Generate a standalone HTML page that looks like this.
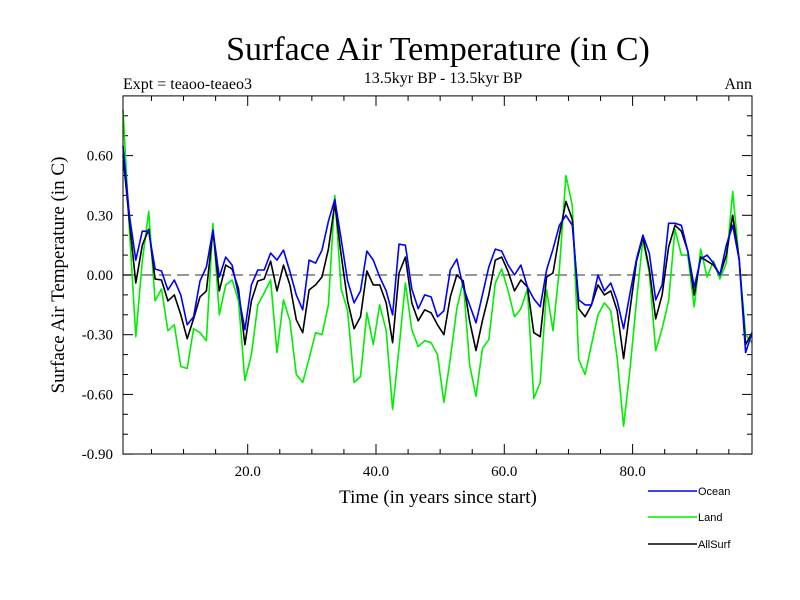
<!DOCTYPE html>
<html><head><meta charset="utf-8"><style>
body{margin:0;background:#fff}
svg{display:block}
text{font-family:"Liberation Serif",serif;fill:#000}
.leg{font-family:"Liberation Sans",sans-serif;font-size:11px}
</style></head><body>
<svg id="chart" width="800" height="600">
<text x="438" y="60" font-size="34" text-anchor="middle">Surface Air Temperature (in C)</text>
<text x="443" y="83" font-size="16" text-anchor="middle">13.5kyr BP - 13.5kyr BP</text>
<text x="123" y="89" font-size="16">Expt = teaoo-teaeo3</text>
<text x="752" y="89" font-size="16" text-anchor="end">Ann</text>
<text transform="translate(64,275) rotate(-90)" font-size="19" text-anchor="middle">Surface Air Temperature (in C)</text>
<text x="438" y="503" font-size="19" text-anchor="middle">Time (in years since start)</text>
<g id="marks"></g>
<rect x="123" y="95.9" width="629" height="358.1" fill="none" stroke="#000" stroke-width="1"/>
<g>
<line x1="648" y1="491" x2="697" y2="491" stroke="#0000ff" stroke-width="1.5"/>
<text class="leg" x="698" y="495">Ocean</text>
<line x1="648" y1="517" x2="697" y2="517" stroke="#00ee00" stroke-width="1.5"/>
<text class="leg" x="698" y="521">Land</text>
<line x1="648" y1="544" x2="697" y2="544" stroke="#000" stroke-width="1.5"/>
<text class="leg" x="698" y="548">AllSurf</text>
</g>
</svg>
<script>
const ocean=[0.65,0.30,0.075,0.22,0.22,0.03,0.02,-0.075,-0.025,-0.10,-0.25,-0.21,-0.03,0.04,0.225,-0.01,0.09,0.05,-0.10,-0.275,-0.05,0.025,0.025,0.11,0.075,0.125,0.017,-0.10,-0.175,0.075,0.06,0.125,0.27,0.38,0.18,-0.03,-0.14,-0.08,0.12,0.075,-0.01,-0.08,-0.20,0.155,0.15,-0.07,-0.17,-0.10,-0.11,-0.21,-0.18,0.025,0.08,-0.06,-0.15,-0.24,-0.10,0.04,0.13,0.12,0.05,0.0,0.05,-0.06,-0.12,-0.16,0.025,0.13,0.25,0.30,0.25,-0.125,-0.15,-0.15,0.0,-0.08,-0.04,-0.13,-0.27,-0.09,0.08,0.20,0.11,-0.125,-0.05,0.26,0.26,0.25,0.12,-0.06,0.08,0.10,0.06,0.0,0.15,0.25,0.075,-0.39,-0.29];
const land=[0.83,0.23,-0.31,0.07,0.32,-0.13,-0.07,-0.28,-0.25,-0.46,-0.47,-0.27,-0.29,-0.33,0.26,-0.20,-0.05,-0.025,-0.13,-0.53,-0.40,-0.15,-0.09,-0.025,-0.39,-0.125,-0.23,-0.50,-0.54,-0.42,-0.29,-0.30,-0.15,0.40,-0.07,-0.18,-0.54,-0.51,-0.19,-0.35,-0.15,-0.28,-0.675,-0.37,-0.04,-0.275,-0.36,-0.33,-0.34,-0.40,-0.64,-0.42,-0.17,-0.03,-0.45,-0.61,-0.37,-0.325,-0.04,0.03,-0.08,-0.21,-0.17,-0.07,-0.62,-0.54,-0.075,-0.28,0.03,0.50,0.35,-0.425,-0.50,-0.35,-0.20,-0.14,-0.18,-0.42,-0.76,-0.47,-0.13,0.18,0.01,-0.38,-0.27,-0.13,0.23,0.10,0.10,-0.16,0.13,-0.01,0.07,-0.02,0.06,0.42,0.07,-0.30,-0.34];
const allsurf=[0.60,0.27,-0.04,0.15,0.23,-0.02,-0.025,-0.13,-0.10,-0.20,-0.32,-0.22,-0.11,-0.08,0.225,-0.08,0.05,0.03,-0.07,-0.35,-0.13,-0.03,-0.02,0.07,-0.08,0.05,-0.05,-0.225,-0.29,-0.075,-0.05,-0.01,0.13,0.36,0.10,-0.13,-0.27,-0.21,0.02,-0.05,-0.05,-0.14,-0.34,0.01,0.09,-0.14,-0.23,-0.175,-0.19,-0.25,-0.30,-0.11,0.0,-0.03,-0.23,-0.38,-0.23,-0.10,0.075,0.09,0.017,-0.08,-0.025,-0.06,-0.29,-0.31,-0.01,0.01,0.20,0.37,0.28,-0.17,-0.21,-0.15,-0.05,-0.10,-0.08,-0.18,-0.42,-0.17,0.07,0.19,0.03,-0.22,-0.10,0.14,0.25,0.22,0.12,-0.10,0.09,0.07,0.05,0.0,0.10,0.30,0.08,-0.35,-0.29];
const years=ocean.map((_,i)=>i+1);
const xTicks=[20,40,60,80];
const xTickLabels=["20.0","40.0","60.0","80.0"];
const yTicks=[0.6,0.3,0,-0.3,-0.6,-0.9];
const yTickLabels=["0.60","0.30","0.00","-0.30","-0.60","-0.90"];

const L=123,R=752,T=95.9,B=454;
const X0=1,X1=99;
function xScale(v){return L+(v-X0)*(R-L)/(X1-X0);}
function tickX(v){return 247.7+(v-20)*6.415;}
function yScale(v){return 275-v*199;}
const NS="http://www.w3.org/2000/svg";
const g=document.getElementById('marks');
function mk(tag,attrs){const e=document.createElementNS(NS,tag);for(const k in attrs)e.setAttribute(k,attrs[k]);g.appendChild(e);return e;}

const z=mk('line',{x1:L,x2:R,y1:yScale(0),y2:yScale(0),stroke:'#777','stroke-width':1.5,'stroke-dasharray':'12,6'});



for(let v=5;v<=95;v+=5){
  const x=tickX(v);const len=(v%20===0)?10:5;
  const a=mk('line',{x1:x,x2:x,y1:B,y2:B-len,stroke:'#000'});
  
  
  const b=mk('line',{x1:x,x2:x,y1:T,y2:T+len,stroke:'#000'});
  
  
}
xTicks.forEach((v,i)=>{
  const t=mk('text',{x:tickX(v),y:476,'font-size':15,'text-anchor':'middle'});
  t.textContent=xTickLabels[i];
  
  
});
for(let k=-9;k<=8;k++){
  const v=k/10;const y=yScale(v);const len=(k%3===0)?10:5;
  const a=mk('line',{x1:L,x2:L+len,y1:y,y2:y,stroke:'#000'});
  
  
  const b=mk('line',{x1:R,x2:R-len,y1:y,y2:y,stroke:'#000'});
  
  
}
yTicks.forEach((v,i)=>{
  const t=mk('text',{x:113,y:yScale(v)+5,'font-size':15,'text-anchor':'end'});
  t.textContent=yTickLabels[i];
  
  
});
function series(arr,color,name){
  const d=arr.map((v,i)=>(i?'L':'M')+xScale(years[i]).toFixed(1)+','+yScale(v).toFixed(1)).join('');
  const p=mk('path',{d:d,fill:'none',stroke:color,'stroke-width':1.6,'stroke-linejoin':'round'});
  
  
}
series(land,'#00ee00','land-line');
series(allsurf,'#000000','allsurf-line');
series(ocean,'#0000ff','ocean-line');
</script>
</body></html>
